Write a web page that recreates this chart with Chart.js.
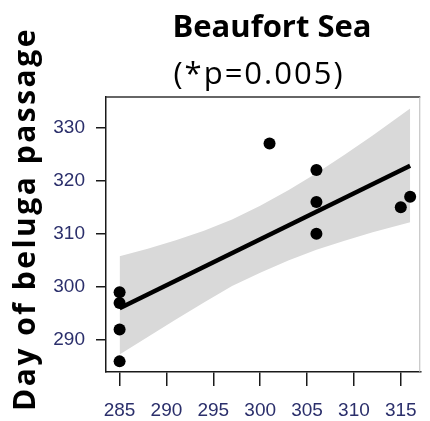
<!DOCTYPE html>
<html>
<head>
<meta charset="utf-8">
<script src="https://cdn.jsdelivr.net/npm/chart.js@4/dist/chart.umd.min.js"></script>
<style>
  html, body { margin: 0; padding: 0; background: #fff; }
  #wrap { width: 430px; height: 421px; position: relative; }
</style>
</head>
<body>
<div id="wrap"><canvas id="chart" width="430" height="421"></canvas></div>
<script>
// observed passage days against the x variable
const obsX = [285, 285, 285, 285, 301, 306, 306, 306, 315, 316];
const obsDay = [299, 297, 292, 286, 327, 322, 316, 310, 315, 317];

// fitted regression line (end points)
const fitX = [285, 316];
const fitDay = [296.0, 322.8];

// shaded confidence band
const bandX = [285, 288, 291, 294, 297, 300, 303, 306, 309, 312, 316];
const bandUpper = [305.8, 307.2, 308.8, 310.6, 312.7, 315.3, 318.2, 321.4, 324.9, 328.5, 333.6];
const bandLower = [287.3, 290.6, 293.9, 297.1, 300.2, 302.7, 305.0, 307.0, 308.7, 310.3, 312.2];

// axis ticks
const xTickValues = [285, 290, 295, 300, 305, 310, 315];
const yTickValues = [290, 300, 310, 320, 330];

const chartTitle = 'Beaufort Sea';
const chartSubtitle = '(*p=0.005)';
const yTitle = 'Day of beluga passage';

const pts = (xs, ys) => xs.map((x, i) => ({ x, y: ys[i] }));

const TICK_COLOR = '#2b2f6b';
const AXIS_COLOR = '#1a1a1a';
const TICK_FONT = { family: "'Liberation Sans', Arial, sans-serif", size: 19 };

// titles and the top/right sides of the plot frame
const decorations = {
    id: 'decorations',
    afterDraw(chart) {
        const ctx = chart.ctx;
        const area = chart.chartArea;
        ctx.save();
        ctx.lineWidth = 1.5;
        ctx.strokeStyle = '#333';
        ctx.beginPath();
        ctx.moveTo(area.left, area.top);
        ctx.lineTo(area.right, area.top);
        ctx.stroke();
        ctx.lineWidth = 1;
        ctx.strokeStyle = '#b8b8b8';
        ctx.beginPath();
        ctx.moveTo(area.right - 0.5, area.top);
        ctx.lineTo(area.right - 0.5, area.bottom);
        ctx.stroke();

        ctx.fillStyle = '#000';
        ctx.textAlign = 'center';
        ctx.textBaseline = 'alphabetic';
        ctx.font = "bold 31px 'Open Sans'";
        ctx.fillText(chartTitle, 272, 37);
        ctx.letterSpacing = '2px';
        ctx.font = "31px 'Open Sans'";
        ctx.fillText(chartSubtitle, 259, 84);

        ctx.translate(35, 219);
        ctx.rotate(-Math.PI / 2);
        ctx.letterSpacing = '2.5px';
        ctx.font = "bold 30px 'Open Sans'";
        ctx.fillText(yTitle, 0, 0);
        ctx.restore();
    }
};

new Chart(document.getElementById('chart'), {
    type: 'line',
    data: {
        datasets: [
            { data: pts(obsX, obsDay), showLine: false, pointRadius: 6, pointBackgroundColor: '#000', pointBorderColor: '#000', pointBorderWidth: 0, order: 0 },
            { data: pts(fitX, fitDay), borderColor: '#000', borderWidth: 4.5, pointRadius: 0, fill: false, order: 1 },
            { data: pts(bandX, bandUpper), borderWidth: 0, borderColor: 'rgba(0,0,0,0)', pointRadius: 0, fill: '+1', backgroundColor: '#d9d9d9', order: 2 },
            { data: pts(bandX, bandLower), borderWidth: 0, borderColor: 'rgba(0,0,0,0)', pointRadius: 0, fill: false, order: 3 }
        ]
    },
    options: {
        responsive: false,
        animation: false,
        events: [],
        layout: { padding: { top: 97, right: 1, left: 0, bottom: 0 } },
        plugins: { legend: { display: false }, tooltip: { enabled: false }, title: { display: false } },
        scales: {
            x: {
                type: 'linear',
                min: 283.55,
                max: 317.08,
                afterFit: (scale) => { scale.height = 49; },
                afterBuildTicks: (scale) => { scale.ticks = xTickValues.map(v => ({ value: v })); },
                grid: { drawOnChartArea: false, drawTicks: true, tickLength: 14, color: AXIS_COLOR, lineWidth: 1.5 },
                border: { display: true, color: AXIS_COLOR, width: 1.5 },
                ticks: { color: TICK_COLOR, padding: 13, maxRotation: 0, font: TICK_FONT }
            },
            y: {
                type: 'linear',
                min: 284.0,
                max: 335.75,
                afterFit: (scale) => { scale.width = 106; },
                afterBuildTicks: (scale) => { scale.ticks = yTickValues.map(v => ({ value: v })); },
                grid: { drawOnChartArea: false, drawTicks: true, tickLength: 10, color: AXIS_COLOR, lineWidth: 1.5 },
                border: { display: true, color: AXIS_COLOR, width: 1.5 },
                ticks: { color: TICK_COLOR, padding: 11, font: TICK_FONT }
            }
        }
    },
    plugins: [decorations]
});
</script>
</body>
</html>
